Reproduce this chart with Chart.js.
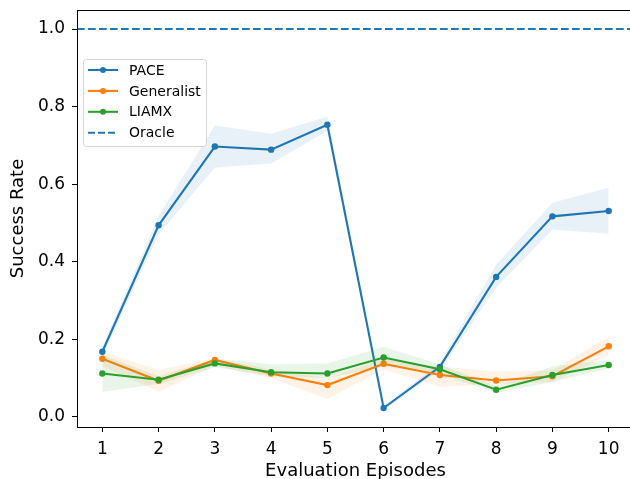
<!DOCTYPE html>
<html>
<head>
<meta charset="utf-8">
<script src="https://cdn.jsdelivr.net/npm/chart.js@4.4.0/dist/chart.umd.min.js"></script>
<style>
  html, body { margin: 0; padding: 0; background: #fff; overflow: hidden; }
  #wrap { width: 640px; height: 479px; }
</style>
</head>
<body>
<div id="wrap"><canvas id="chart" width="640" height="479"></canvas></div>
<script>
// Data
const episodes = [1, 2, 3, 4, 5, 6, 7, 8, 9, 10];

const paceMean  = [0.168, 0.494, 0.697, 0.689, 0.753, 0.023, 0.129, 0.361, 0.517, 0.531];
const paceLow   = [0.155, 0.470, 0.643, 0.653, 0.738, 0.018, 0.120, 0.333, 0.483, 0.472];
const paceHigh  = [0.180, 0.518, 0.751, 0.730, 0.774, 0.028, 0.140, 0.392, 0.552, 0.591];

const genMean   = [0.150, 0.093, 0.147, 0.112, 0.082, 0.137, 0.108, 0.094, 0.105, 0.182];
const genLow    = [0.130, 0.065, 0.132, 0.100, 0.046, 0.122, 0.078, 0.085, 0.090, 0.160];
const genHigh   = [0.168, 0.121, 0.151, 0.122, 0.100, 0.150, 0.130, 0.117, 0.120, 0.207];

const liamxMean = [0.112, 0.096, 0.138, 0.115, 0.112, 0.153, 0.123, 0.070, 0.108, 0.134];
const liamxLow  = [0.065, 0.085, 0.128, 0.105, 0.100, 0.130, 0.110, 0.062, 0.090, 0.125];
const liamxHigh = [0.160, 0.105, 0.150, 0.136, 0.138, 0.181, 0.135, 0.080, 0.130, 0.147];

const oracleValue = 1.0;

const xTicks = [1, 2, 3, 4, 5, 6, 7, 8, 9, 10];
const yTicks = [0.0, 0.2, 0.4, 0.6, 0.8, 1.0];

const BLUE = '#1f77b4', ORANGE = '#ff7f0e', GREEN = '#2ca02c';
const FONT = "'DejaVu Sans', sans-serif";

function pts(arr) {
    return episodes.map((e, i) => ({ x: e, y: arr[i] }));
}

function band(low, high, fillColor, order) {
    return [
        { label: '_hi', data: pts(high), borderWidth: 0, pointRadius: 0, fill: false, order: order },
        { label: '_lo', data: pts(low), borderWidth: 0, pointRadius: 0, fill: '-1', backgroundColor: fillColor, order: order }
    ];
}

function line(label, arr, color, order) {
    return {
        label: label, data: pts(arr), borderColor: color, backgroundColor: color,
        borderWidth: 2.1, pointRadius: 3.2, pointHoverRadius: 3.2, pointBorderWidth: 0,
        fill: false, tension: 0, order: order
    };
}

// frame (spines) + oracle dashed line
const framePlugin = {
    id: 'frame',
    afterDatasetsDraw(chart) {
        const { ctx, chartArea: a, scales } = chart;
        ctx.save();
        const yo = scales.y.getPixelForValue(oracleValue);
        ctx.strokeStyle = BLUE;
        ctx.lineWidth = 2.1;
        ctx.setLineDash([7.7, 3.3]);
        ctx.beginPath();
        ctx.moveTo(a.left, yo);
        ctx.lineTo(a.right, yo);
        ctx.stroke();
        ctx.setLineDash([]);
        ctx.strokeStyle = '#000';
        ctx.lineWidth = 1;
        ctx.strokeRect(a.left + 0.5, a.top + 0.5, a.right - a.left - 1, a.bottom - a.top);
        ctx.restore();
    }
};

// matplotlib-like legend
const legendPlugin = {
    id: 'mplLegend',
    afterDraw(chart) {
        const { ctx } = chart;
        const items = [
            { text: 'PACE', color: BLUE, dash: false },
            { text: 'Generalist', color: ORANGE, dash: false },
            { text: 'LIAMX', color: GREEN, dash: false },
            { text: 'Oracle', color: BLUE, dash: true }
        ];
        const x0 = 83, y0 = 59, w = 123, h = 87;
        ctx.save();
        ctx.fillStyle = 'rgba(255,255,255,0.8)';
        ctx.strokeStyle = '#d6d6d6';
        ctx.lineWidth = 1;
        ctx.beginPath();
        ctx.roundRect(x0 + 0.5, y0 + 0.5, w, h, 3);
        ctx.fill();
        ctx.stroke();
        ctx.font = '14px ' + FONT;
        ctx.textBaseline = 'middle';
        items.forEach((it, i) => {
            const y = y0 + 11 + i * 20.9;
            ctx.strokeStyle = it.color;
            ctx.lineWidth = 2.1;
            if (it.dash) ctx.setLineDash([7, 3]);
            ctx.beginPath();
            ctx.moveTo(88, y);
            ctx.lineTo(118, y);
            ctx.stroke();
            ctx.setLineDash([]);
            if (!it.dash) {
                ctx.fillStyle = it.color;
                ctx.beginPath();
                ctx.arc(103, y, 3, 0, Math.PI * 2);
                ctx.fill();
            }
            ctx.fillStyle = '#000';
            ctx.fillText(it.text, 129, y + 1);
        });
        ctx.restore();
    }
};

const datasets = [
    ...band(paceLow, paceHigh, 'rgba(31,119,180,0.1)', 3),
    line('PACE', paceMean, BLUE, 3),
    ...band(genLow, genHigh, 'rgba(255,127,14,0.1)', 2),
    line('Generalist', genMean, ORANGE, 2),
    ...band(liamxLow, liamxHigh, 'rgba(44,160,44,0.1)', 1),
    line('LIAMX', liamxMean, GREEN, 1)
];

new Chart(document.getElementById('chart'), {
    type: 'line',
    data: { datasets: datasets },
    options: {
        responsive: false,
        animation: false,
        layout: { padding: { top: 10, right: 6, left: 0, bottom: 0 } },
        plugins: { legend: { display: false }, tooltip: { enabled: false } },
        scales: {
            x: {
                type: 'linear', min: 0.55, max: 10.45,
                afterBuildTicks: s => { s.ticks = xTicks.map(v => ({ value: v })); },
                afterFit: s => { s.height = 52; s.paddingLeft = 0; s.paddingRight = 0; },
                grid: { drawOnChartArea: false, drawTicks: true, tickLength: 5, color: '#000' },
                border: { display: false },
                ticks: { color: '#000', font: { family: FONT, size: 17 }, padding: 7, maxRotation: 0 },
                title: { display: true, text: 'Evaluation Episodes', color: '#000', font: { family: FONT, size: 18, lineHeight: 0.9 }, padding: { top: 0, bottom: 0 } }
            },
            y: {
                type: 'linear', min: -0.026, max: 1.049,
                afterBuildTicks: s => { s.ticks = yTicks.map(v => ({ value: v })); },
                afterFit: s => { s.width = 77; s.paddingTop = 0; s.paddingBottom = 0; },
                grid: { drawOnChartArea: false, drawTicks: true, tickLength: 5, color: '#000' },
                border: { display: false },
                ticks: { color: '#000', font: { family: FONT, size: 17 }, padding: 7, callback: v => v.toFixed(1) },
                title: { display: true, text: 'Success Rate', color: '#000', font: { family: FONT, size: 18 }, padding: { top: 8, bottom: 4 } }
            }
        }
    },
    plugins: [framePlugin, legendPlugin]
});
</script>
</body>
</html>
